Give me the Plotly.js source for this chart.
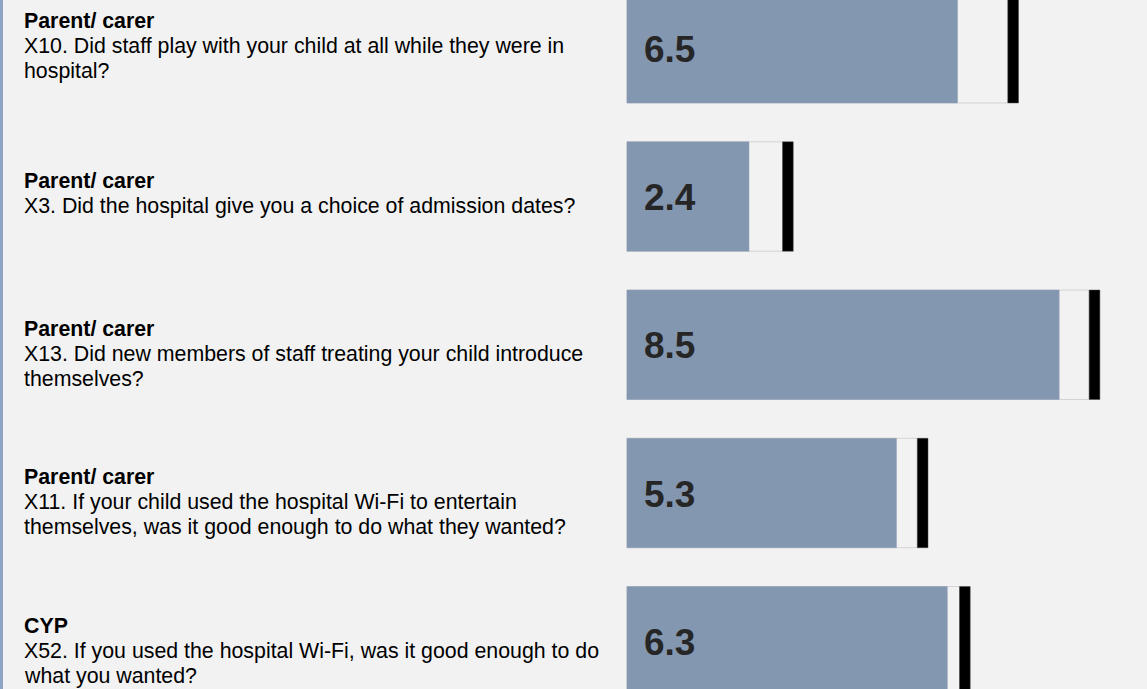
<!DOCTYPE html>
<html>
<head>
<meta charset="utf-8">
<script src="https://cdn.plot.ly/plotly-3.0.1.min.js"></script>
<style>
  html, body { margin: 0; padding: 0; background: #f2f2f2; overflow: hidden; }
  #chart { width: 1147px; height: 689px; }
</style>
</head>
<body>
<div id="chart"></div>
<script>
// ---- Data ----
const categories = ['X10', 'X3', 'X13', 'X11', 'X52'];
const respondents = ['Parent/ carer', 'Parent/ carer', 'Parent/ carer', 'Parent/ carer', 'CYP'];
const questions = [
  'X10. Did staff play with your child at all while they were in<br>hospital?',
  'X3. Did the hospital give you a choice of admission dates?',
  'X13. Did new members of staff treating your child introduce<br>themselves?',
  'X11. If your child used the hospital Wi-Fi to entertain<br>themselves, was it good enough to do what they wanted?',
  'X52. If you used the hospital Wi-Fi, was it good enough to do<br>what you wanted?'
];
const scores = [6.5, 2.4, 8.5, 5.3, 6.3];
const upperRange = [7.49, 3.06, 9.09, 5.71, 6.54];

// ---- Styling ----
const FONT = 'Liberation Sans, Arial, sans-serif';
const BAR_W = 0.738;
const MARK_W = 0.21;
const LINE_H = 25;
const TOP_OFFSET = 15.7;   // first text line sits this far above the bar centre

const traces = [
  {
    type: 'bar', orientation: 'h',
    y: categories, x: upperRange,
    width: BAR_W,
    marker: { color: '#f2f2f2', line: { color: '#d4d4d4', width: 1 } },
    hoverinfo: 'skip'
  },
  {
    type: 'bar', orientation: 'h',
    y: categories, x: scores,
    width: BAR_W,
    marker: { color: '#8497b0', line: { color: '#8f9fb8', width: 0.5 } },
    hoverinfo: 'skip'
  },
  {
    type: 'bar', orientation: 'h',
    y: categories, base: upperRange, x: categories.map(() => MARK_W),
    width: BAR_W,
    marker: { color: '#000000', line: { color: '#444', width: 0.5 } },
    hoverinfo: 'skip'
  }
];

const annotations = [];
categories.forEach((c, i) => {
  const lines = ['<b>' + respondents[i] + '</b>'].concat(questions[i].split('<br>'));
  const n = lines.length;
  lines.forEach((ln, j) => {
    // first row is cut at the top of the picture: its text block is centred on the bar
    const shift = (i === 0) ? ((n - 1) / 2 - j) * LINE_H + 2 : TOP_OFFSET - j * LINE_H;
    annotations.push({
      xref: 'paper', yref: 'y', x: 22 / 1147, y: c,
      xanchor: 'left', yanchor: 'middle',
      yshift: shift,
      text: ln, showarrow: false,
      font: { family: FONT, size: 21.33, color: '#000000' }
    });
  });
  annotations.push({
    xref: 'x', yref: 'y', x: 0, y: c,
    xanchor: 'left', yanchor: 'middle', xshift: 15, yshift: -1,
    text: '<b>' + scores[i].toFixed(1) + '</b>', showarrow: false,
    font: { family: FONT, size: 37, color: '#262626' }
  });
});

const layout = {
  width: 1147, height: 689,
  margin: { l: 0, r: 0, t: 0, b: 0, pad: 0 },
  paper_bgcolor: '#f2f2f2', plot_bgcolor: '#f2f2f2',
  barmode: 'overlay',
  showlegend: false,
  xaxis: { range: [-12.33, 10.227], visible: false, fixedrange: true },
  yaxis: { type: 'category', range: [4.322, -0.3255], visible: false, fixedrange: true },
  annotations: annotations,
  shapes: [{
    type: 'line', xref: 'paper', yref: 'paper',
    x0: 1.5 / 1147, x1: 1.5 / 1147, y0: 0, y1: 1,
    line: { color: '#8ea5c6', width: 3 }
  }]
};

Plotly.newPlot('chart', traces, layout, { displayModeBar: false, staticPlot: true });
</script>
</body>
</html>
